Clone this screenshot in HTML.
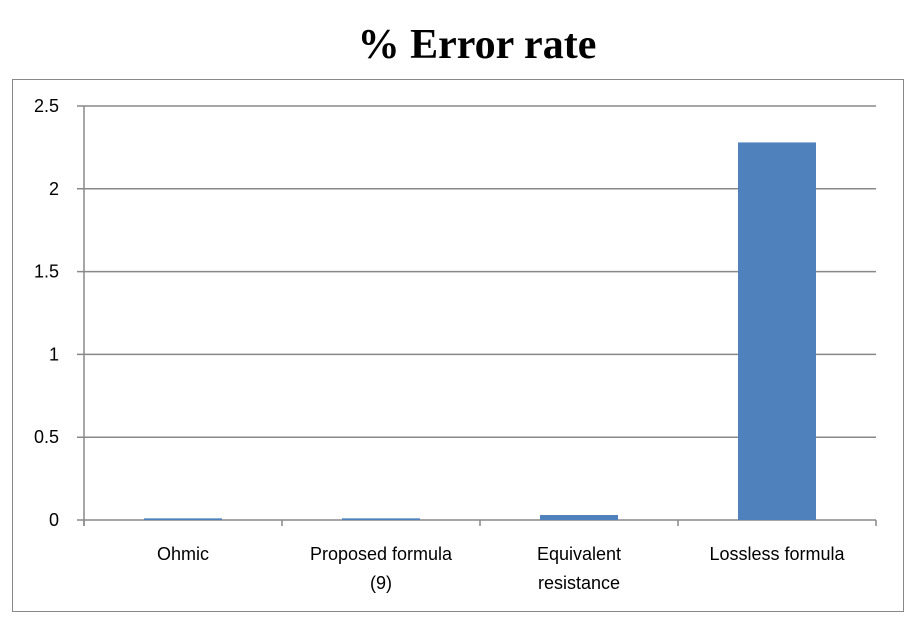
<!DOCTYPE html>
<html><head><meta charset="utf-8"><style>
body{margin:0;background:#fff;width:917px;height:620px;overflow:hidden}
svg{display:block}
</style></head><body>
<svg width="917" height="620">
<text x="477" y="58" text-anchor="middle" font-family="Liberation Serif, serif" font-weight="bold" font-size="42" fill="#000">% Error rate</text>
<rect x="12.5" y="79.5" width="891" height="532" fill="none" stroke="#888"/>
<g id="g"></g>
</svg>
<script>
const categories=[["Ohmic"],["Proposed formula","(9)"],["Equivalent","resistance"],["Lossless formula"]];
const values=[0.01,0.01,0.03,2.28];
const ticks=[0,0.5,1,1.5,2,2.5];
const X0=84,X1=876,Y0=520,Y1=106,MAX=2.5;
const y=v=>Y0-(v/MAX)*(Y0-Y1);
const bw=(X1-X0)/categories.length;
const x=i=>X0+bw*i;
const g=document.getElementById('g');
const NS='http://www.w3.org/2000/svg';
function mk(t,a){const e=document.createElementNS(NS,t);for(const k in a)e.setAttribute(k,a[k]);g.appendChild(e);return e;}
ticks.forEach(t=>{
 const l=mk('line',{x1:X0-7,x2:X1,y1:y(t),y2:y(t),stroke:'#888','stroke-width':1.5});
 
 
 const tx=mk('text',{x:59,y:y(t)+6,'text-anchor':'end','font-family':'Liberation Sans, sans-serif','font-size':18,fill:'#000'});
 tx.textContent=t;
 
 
});
const ax=mk('line',{x1:X0,x2:X0,y1:Y1,y2:Y0+6,stroke:'#888','stroke-width':1.5});


for(let i=0;i<=categories.length;i++){
 const tk=mk('line',{x1:x(i),x2:x(i),y1:Y0,y2:Y0+6,stroke:'#888','stroke-width':1.5});
 
 
}
values.forEach((v,i)=>{
 const cx=x(i)+bw/2;
 const r=mk('rect',{x:cx-39,y:y(v),width:78,height:Math.max(Y0-y(v),1),fill:'#4f81bd'});
 
 
 categories[i].forEach((s,j)=>{
  const t=mk('text',{x:cx,y:560+j*29,'text-anchor':'middle','font-family':'Liberation Sans, sans-serif','font-size':18,fill:'#000'});
  t.textContent=s;
  
  
 });
});
</script>
</body></html>
